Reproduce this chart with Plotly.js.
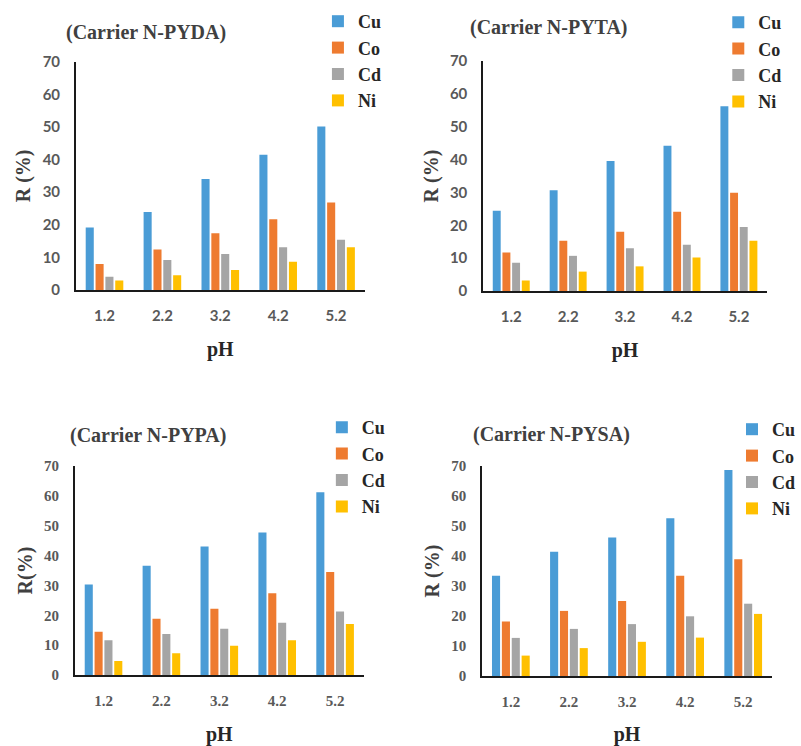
<!DOCTYPE html>
<html>
<head>
<meta charset="utf-8">
<script src="https://cdn.plot.ly/plotly-3.0.1.min.js"></script>
<style>html,body{margin:0;padding:0;background:#fff;}#chart{width:801px;height:746px;}</style>
</head>
<body>
<div id="chart"></div>
<script>
// ---- data ----
const pH = ['1.2', '2.2', '3.2', '4.2', '5.2'];
const yTicks = [0, 10, 20, 30, 40, 50, 60, 70];
const metals = ['Cu', 'Co', 'Cd', 'Ni'];
const panelTitles = ['(Carrier N-PYDA)', '(Carrier N-PYTA)', '(Carrier N-PYPA)', '(Carrier N-PYSA)'];
const yTitles = ['R (%)', 'R (%)', 'R(%)', 'R (%)'];
const xTitle = 'pH';

// Carrier N-PYDA
const pydaCu = [19.2, 23.9, 34.0, 41.5, 50.1];
const pydaCo = [8.0, 12.4, 17.4, 21.7, 26.8];
const pydaCd = [4.1, 9.2, 11.0, 13.1, 15.4];
const pydaNi = [2.9, 4.5, 6.1, 8.7, 13.1];
// Carrier N-PYTA
const pytaCu = [24.4, 30.7, 39.6, 44.2, 56.2];
const pytaCo = [11.7, 15.3, 18.0, 24.1, 29.9];
const pytaCd = [8.6, 10.7, 13.0, 14.1, 19.5];
const pytaNi = [3.2, 5.9, 7.5, 10.2, 15.3];
// Carrier N-PYPA
const pypaCu = [30.3, 36.6, 43.0, 47.7, 61.2];
const pypaCo = [14.5, 18.8, 22.2, 27.4, 34.5];
const pypaCd = [11.6, 13.7, 15.5, 17.5, 21.3];
const pypaNi = [4.7, 7.3, 9.8, 11.6, 17.1];
// Carrier N-PYSA
const pysaCu = [33.4, 41.4, 46.2, 52.6, 68.7];
const pysaCo = [18.2, 21.7, 25.0, 33.4, 38.9];
const pysaCd = [12.7, 15.7, 17.3, 19.9, 24.1];
const pysaNi = [6.8, 9.3, 11.4, 12.8, 20.7];

const panelData = [
  [pydaCu, pydaCo, pydaCd, pydaNi],
  [pytaCu, pytaCo, pytaCd, pytaNi],
  [pypaCu, pypaCo, pypaCd, pypaNi],
  [pysaCu, pysaCo, pysaCd, pysaNi]
];

// ---- styles ----
const colors = ['#4A9CD6', '#EE7B30', '#A5A5A5', '#FFC000'];
const W = 801, H = 746;
const SERIF = 'Times New Roman';
const SANS = 'Lato';
const B = s => '<b>' + s + '</b>';
// plot areas in pixels [x0, x1, yTop, yBottom]
const boxes = [
  [77, 372, 61.7, 290],
  [492, 782, 61, 291],
  [76, 371, 466, 675],
  [491, 787, 466, 676]
];
const tickFonts = [SANS, SANS, SERIF, SERIF];
const titlePos = [[148.5, 32], [559, 27], [150.5, 435], [562, 434]];
const legendPos = [[324, 3], [732, 4], [328, 409], [746, 411]];

const traces = [];
const layout = {
  width: W, height: H,
  font: {family: SERIF},
  margin: {l: 0, r: 0, t: 0, b: 0},
  paper_bgcolor: '#fff', plot_bgcolor: '#fff',
  barmode: 'group', bargap: 0.32, bargroupgap: 0.18,
  showlegend: true,
  annotations: []
};

for (let p = 0; p < 4; p++) {
  const sfx = p === 0 ? '' : String(p + 1);
  const lg = 'legend' + sfx;
  for (let m = 0; m < 4; m++) {
    traces.push({
      type: 'bar', x: pH, y: panelData[p][m], name: B(metals[m]),
      xaxis: 'x' + sfx, yaxis: 'y' + sfx, legend: lg,
      marker: {color: colors[m]}, hoverinfo: 'x+y+name'
    });
  }
  const b = boxes[p];
  layout['xaxis' + sfx] = {
    type: 'category',
    domain: [b[0] / W, b[1] / W], anchor: 'y' + sfx,
    showline: true, linecolor: '#1a1a1a', linewidth: 1.5,
    showgrid: false, zeroline: false, ticks: '',
    tickmode: 'array', tickvals: pH, ticktext: pH.map(B),
    ticklabelstandoff: 11,
    tickfont: {family: tickFonts[p], size: 15, color: '#595959'},
    title: {text: B(xTitle), font: {family: SERIF, size: 20, color: '#262626'}, standoff: 19},
    fixedrange: true
  };
  layout['yaxis' + sfx] = {
    domain: [1 - b[3] / H, 1 - b[2] / H], anchor: 'x' + sfx,
    range: [0, 70],
    tickmode: 'array', tickvals: yTicks, ticktext: yTicks.map(v => B(String(v))),
    showline: true, linecolor: '#1a1a1a', linewidth: 1.5,
    showgrid: false, zeroline: false, ticks: '',
    ticklabelstandoff: 11,
    tickfont: {family: tickFonts[p], size: 15, color: '#595959'},
    title: {text: B(yTitles[p]), font: {family: SERIF, size: 20, color: '#404040'}, standoff: 6},
    fixedrange: true
  };
  layout[lg] = {
    x: legendPos[p][0] / W, y: 1 - legendPos[p][1] / H,
    xanchor: 'left', yanchor: 'top',
    bgcolor: 'rgba(0,0,0,0)', borderwidth: 0,
    itemwidth: 30, tracegroupgap: 0,
    font: {family: SERIF, size: 18, color: '#262626'}
  };
  layout.annotations.push({
    text: B(panelTitles[p]), xref: 'paper', yref: 'paper',
    x: titlePos[p][0] / W, y: 1 - titlePos[p][1] / H,
    xanchor: 'center', yanchor: 'middle', showarrow: false,
    font: {family: SERIF, size: 20, color: '#404040'}
  });
}

Plotly.newPlot('chart', traces, layout, {displayModeBar: false, staticPlot: true});
</script>
</body>
</html>
